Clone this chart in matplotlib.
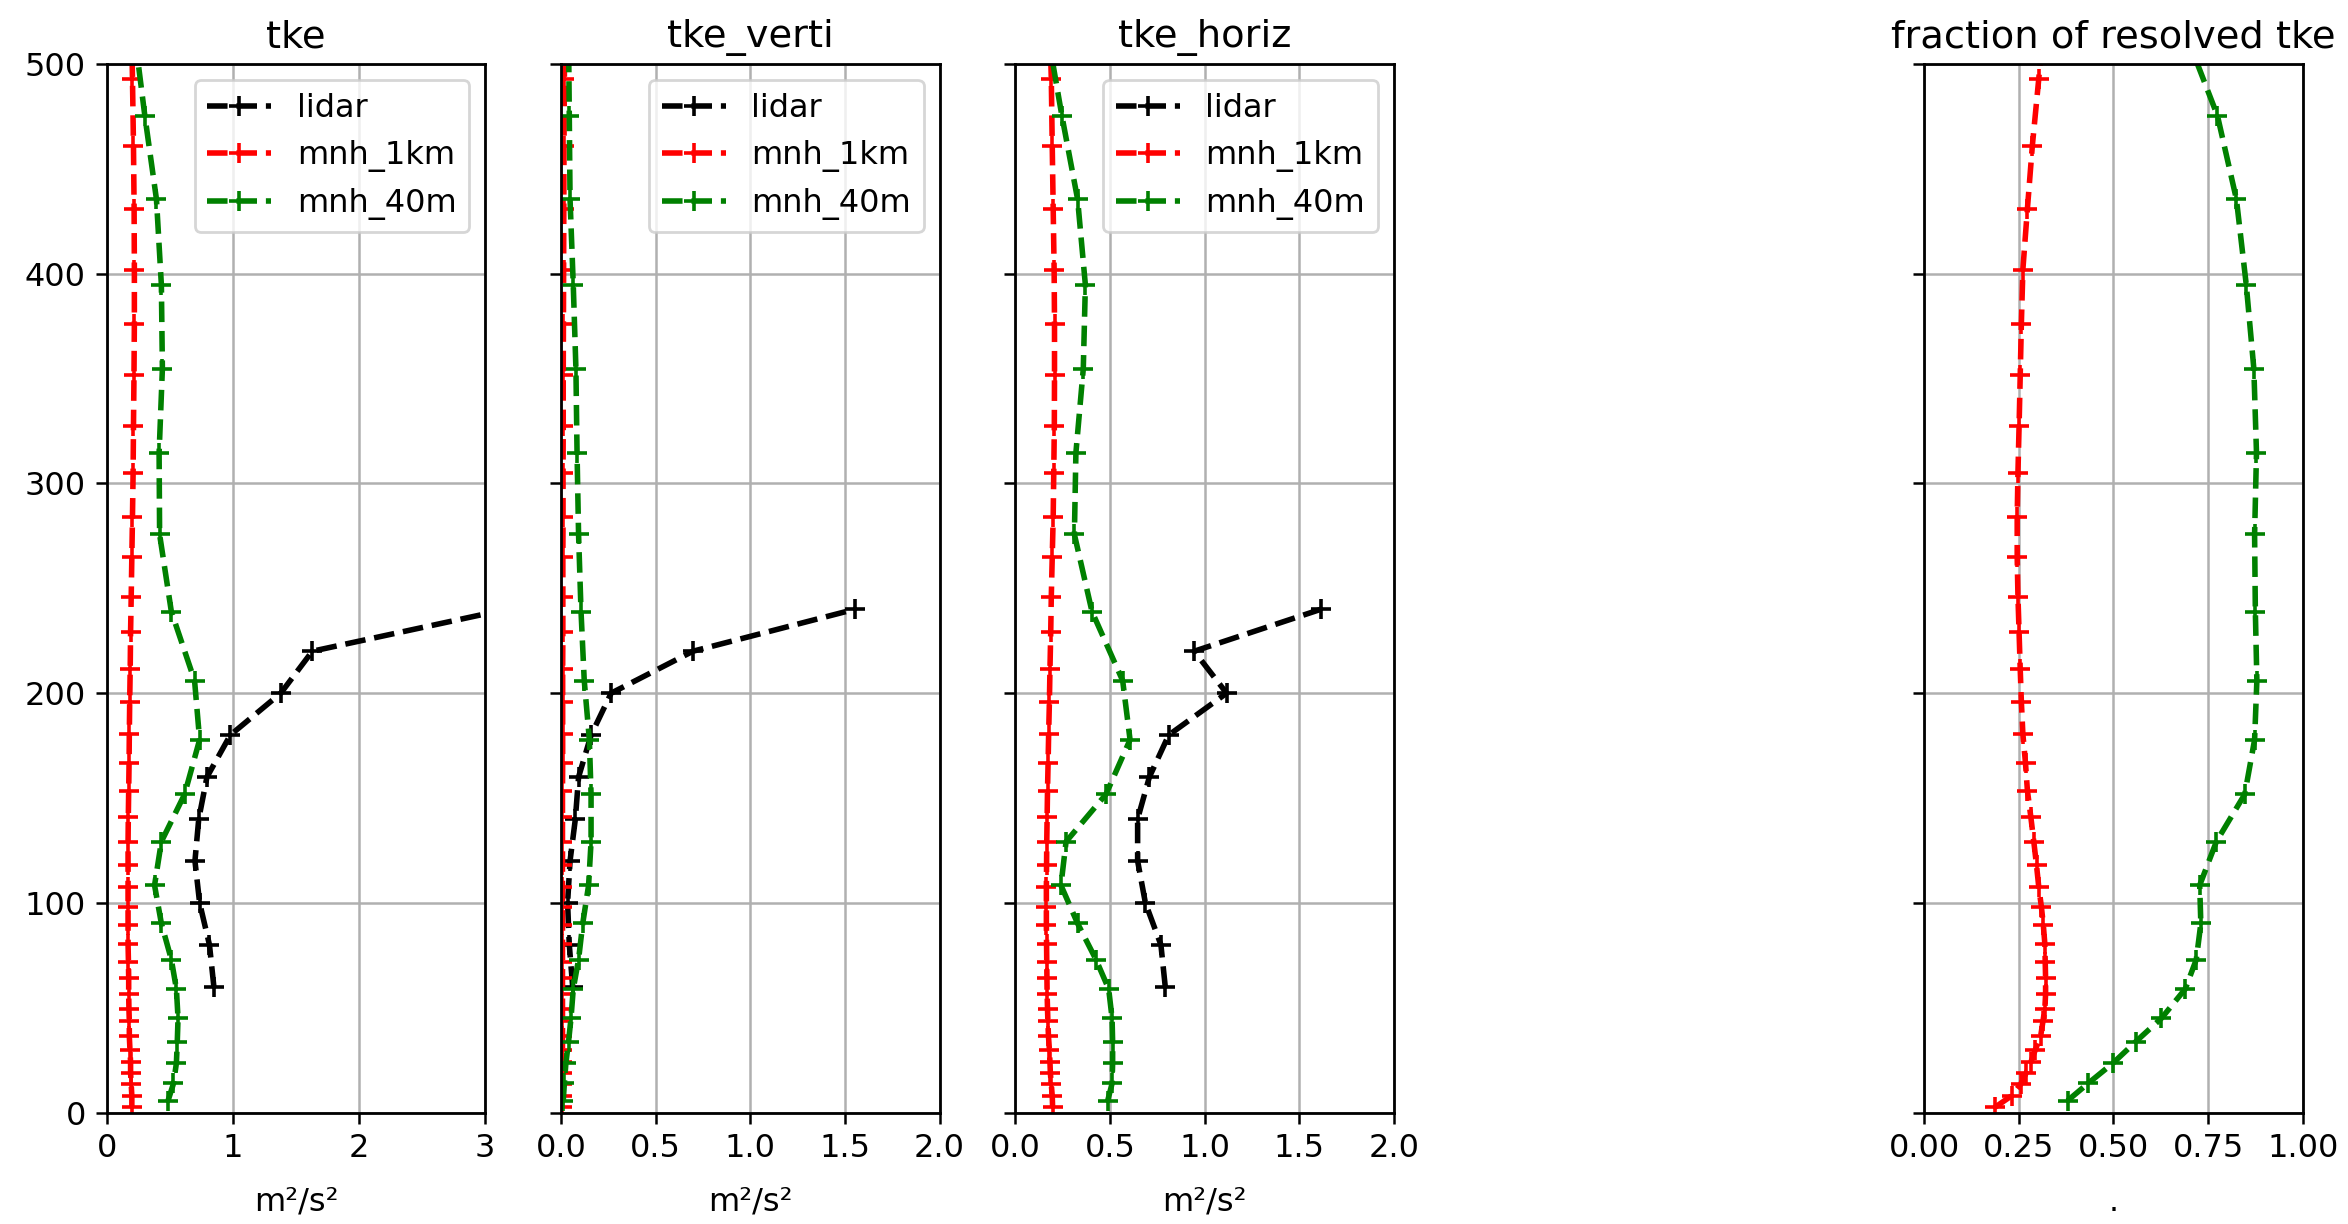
import matplotlib
matplotlib.use("Agg")
import matplotlib.pyplot as plt

# heights (m)
z_lidar = [60, 80, 100, 120, 140, 160, 180, 200, 220, 240]
z_1km = [2.5, 8, 13.5, 19, 24, 30, 36.5, 43.5, 49.5, 56.5, 64, 72, 80.5, 89.5, 98,
         107.5, 118, 129, 141, 153.5, 166.5, 180.5, 196, 211.5, 229, 246, 265, 284,
         305, 327.5, 351.5, 376, 402, 431, 461, 493, 527]
z_40m = [5.7, 13.9, 23.6, 33.8, 45, 59, 73, 90.2, 108.4, 129.2, 151.8, 177.8, 206,
         238.9, 275.7, 314.6, 354.7, 394.7, 435.5, 475.3, 515]

# tke (m2/s2)
tke_lidar = [0.85, 0.815, 0.737, 0.70, 0.73, 0.795, 0.98, 1.38, 1.63, 3.17]
tke_1km = [0.20, 0.20, 0.195, 0.19, 0.19, 0.185, 0.18, 0.18, 0.177, 0.175, 0.175, 0.173,
           0.17, 0.17, 0.17, 0.17, 0.17, 0.17, 0.172, 0.175, 0.178, 0.18, 0.183, 0.187,
           0.19, 0.195, 0.20, 0.205, 0.21, 0.213, 0.217, 0.22, 0.22, 0.218, 0.213, 0.205, 0.195]
tke_40m = [0.487, 0.53, 0.553, 0.56, 0.566, 0.553, 0.513, 0.434, 0.38, 0.434, 0.618, 0.737,
           0.697, 0.513, 0.42, 0.416, 0.442, 0.434, 0.395, 0.303, 0.22]

# vertical part
verti_lidar = [0.062, 0.044, 0.035, 0.048, 0.076, 0.093, 0.159, 0.265, 0.697, 1.552]
verti_1km = [0.003, 0.005, 0.006, 0.007, 0.008, 0.008, 0.008, 0.008, 0.008, 0.008, 0.008,
             0.008, 0.008, 0.008, 0.008, 0.008, 0.008, 0.008, 0.008, 0.008, 0.009, 0.009,
             0.009, 0.009, 0.01, 0.01, 0.01, 0.011, 0.011, 0.012, 0.012, 0.013, 0.014,
             0.015, 0.016, 0.018, 0.02]
verti_40m = [0.012, 0.018, 0.026, 0.04, 0.053, 0.065, 0.093, 0.115, 0.146, 0.159, 0.159,
             0.15, 0.123, 0.106, 0.093, 0.085, 0.079, 0.065, 0.048, 0.044, 0.04]

# horizontal part
horiz_lidar = [0.792, 0.769, 0.687, 0.646, 0.646, 0.708, 0.81, 1.116, 0.945, 1.614]
horiz_1km = [0.197, 0.195, 0.19, 0.185, 0.183, 0.18, 0.175, 0.172, 0.17, 0.168, 0.167,
             0.166, 0.165, 0.164, 0.164, 0.164, 0.165, 0.166, 0.168, 0.17, 0.173, 0.176,
             0.18, 0.183, 0.187, 0.19, 0.195, 0.2, 0.203, 0.206, 0.207, 0.207, 0.205,
             0.2, 0.195, 0.19, 0.18]
horiz_40m = [0.488, 0.511, 0.514, 0.514, 0.511, 0.493, 0.426, 0.329, 0.241, 0.268, 0.479,
             0.606, 0.567, 0.405, 0.312, 0.32, 0.359, 0.37, 0.329, 0.246, 0.17]

# fraction of resolved tke
frac_1km = [0.187, 0.231, 0.255, 0.270, 0.282, 0.294, 0.308, 0.314, 0.319, 0.321, 0.321,
            0.320, 0.319, 0.315, 0.310, 0.303, 0.297, 0.290, 0.282, 0.273, 0.268, 0.261,
            0.257, 0.254, 0.251, 0.248, 0.246, 0.246, 0.248, 0.251, 0.254, 0.257, 0.261,
            0.273, 0.286, 0.303, 0.32]
frac_40m = [0.379, 0.433, 0.499, 0.559, 0.627, 0.69, 0.719, 0.731, 0.728, 0.772, 0.847,
            0.873, 0.879, 0.875, 0.873, 0.878, 0.871, 0.851, 0.825, 0.775, 0.69]

plt.rcParams["font.size"] = 11.5
plt.rcParams["lines.linewidth"] = 2.0
plt.rcParams["lines.markersize"] = 7.5
plt.rcParams["lines.markeredgewidth"] = 1.3
plt.rcParams["axes.linewidth"] = 1.0
plt.rcParams["grid.linewidth"] = 0.9
plt.rcParams["xtick.major.size"] = 4
plt.rcParams["ytick.major.size"] = 4
plt.rcParams["xtick.major.width"] = 0.9
plt.rcParams["ytick.major.width"] = 0.9

fig, axes = plt.subplots(1, 5, sharey=True, figsize=(11.74, 6.12), dpi=200)
plt.subplots_adjust(left=0.0454, right=0.9807, bottom=0.091, top=0.9477, wspace=0.2)

panels = [
    ("tke", tke_lidar, tke_1km, tke_40m, 3),
    ("tke_verti", verti_lidar, verti_1km, verti_40m, 2),
    ("tke_horiz", horiz_lidar, horiz_1km, horiz_40m, 2),
]

for ax, (title, lid, km1, m40, xmax) in zip(axes[:3], panels):
    ax.plot(lid, z_lidar, "k--+", label="lidar")
    ax.plot(km1, z_1km, "r--+", label="mnh_1km")
    ax.plot(m40, z_40m, "g--+", label="mnh_40m")
    ax.set_title(title)
    ax.set_xlim(0, xmax)
    ax.set_xlabel("m²/s²", labelpad=8)
    ax.grid()
    ax.legend(loc="upper right")

axes[0].set_xticks([0, 1, 2, 3])
axes[1].set_xticks([0.0, 0.5, 1.0, 1.5, 2.0])
axes[2].set_xticks([0.0, 0.5, 1.0, 1.5, 2.0])

# empty slot
axes[3].axis("off")

ax = axes[4]
ax.plot(frac_1km, z_1km, "r--+")
ax.plot(frac_40m, z_40m, "g--+")
ax.set_title("fraction of resolved tke")
ax.set_xlim(0, 1)
ax.set_xticks([0.0, 0.25, 0.5, 0.75, 1.0])
ax.set_xlabel(".", labelpad=8)
ax.grid()

axes[0].set_ylim(0, 500)
axes[0].set_yticks([0, 100, 200, 300, 400, 500])

plt.savefig("out.png", dpi=200)
